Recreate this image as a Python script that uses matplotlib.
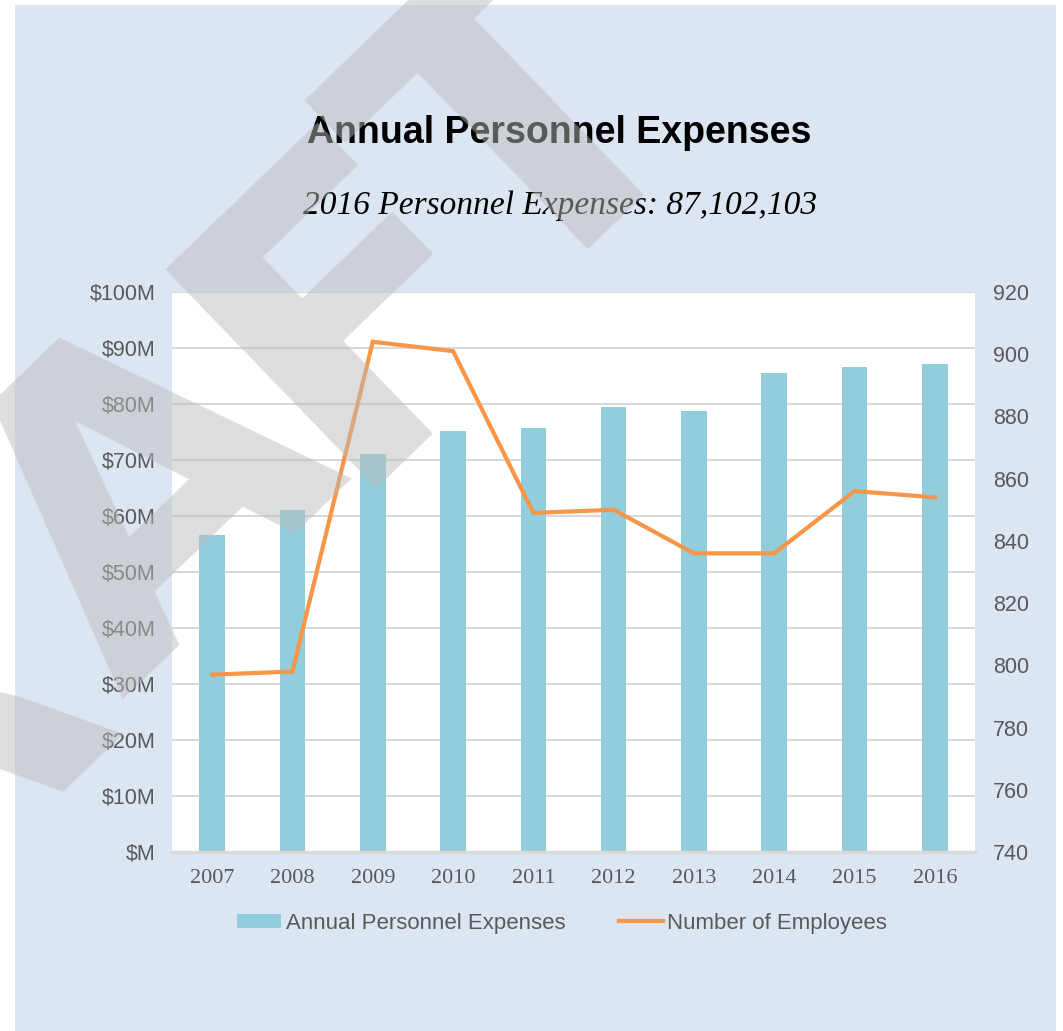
import math
import matplotlib
matplotlib.use("Agg")
import matplotlib.pyplot as plt
from matplotlib.patches import Rectangle
from matplotlib.lines import Line2D

# data
years = ["2007", "2008", "2009", "2010", "2011", "2012", "2013", "2014", "2015", "2016"]
expenses_m = [56.6, 61.1, 71.1, 75.2, 75.7, 79.5, 78.8, 85.5, 86.6, 87.1]
employees = [797, 798, 904, 901, 849, 850, 836, 836, 856, 854]
left_ticks = list(range(0, 101, 10))
right_ticks = list(range(740, 921, 20))

bar_color = "#92CDDC"
line_color = "#F79646"
text_gray = "#595959"
grid_gray = "#D9D9D9"
bg_blue = "#DCE6F2"

W, H = 1063, 1031
fig = plt.figure(figsize=(W / 100, H / 100), dpi=100)
fig.patch.set_facecolor("white")

# light blue panel behind everything
fig.add_artist(Rectangle((15 / W, 0), (1056 - 15) / W, 1 - 5 / H,
                         transform=fig.transFigure, facecolor=bg_blue,
                         edgecolor="none", zorder=-1))

ax = fig.add_axes([172 / W, 1 - 852 / H, (975 - 172) / W, (852 - 292) / H])
ax.set_facecolor("white")
x = list(range(len(years)))
ax.bar(x, expenses_m, width=0.32, color=bar_color, zorder=2)
ax.set_xlim(-0.5, len(years) - 0.5)
ax.set_ylim(0, 100)
ax.set_yticks(left_ticks)
ax.set_yticklabels(["$M"] + ["${}M".format(v) for v in left_ticks[1:]])
ax.set_xticks(x)
ax.set_xticklabels(years, family="Liberation Serif", fontsize=16, color=text_gray)
ax.grid(axis="y", color=grid_gray, linewidth=1.5, zorder=0)
ax.set_axisbelow(True)
for s in ["left", "right", "top"]:
    ax.spines[s].set_visible(False)
ax.spines["bottom"].set_color(grid_gray)
ax.spines["bottom"].set_linewidth(2.5)
ax.tick_params(axis="x", length=0, pad=12)
ax.tick_params(axis="y", length=0, pad=12, labelsize=15.5, labelcolor=text_gray)
for lab in ax.get_yticklabels():
    lab.set_family("Liberation Sans")

ax2 = ax.twinx()
ax2.plot(x, employees, color=line_color, linewidth=3, solid_joinstyle="miter", zorder=3)
ax2.set_ylim(740, 920)
ax2.set_yticks(right_ticks)
ax2.tick_params(axis="y", length=0, pad=13, labelsize=15.5, labelcolor=text_gray)
for lab in ax2.get_yticklabels():
    lab.set_family("Liberation Sans")
for s in ax2.spines.values():
    s.set_visible(False)

fig.text(559 / W, 1 - 133 / H, "Annual Personnel Expenses", ha="center", va="center",
         fontsize=27, fontweight="bold", family="Liberation Sans", color="black")
fig.text(560 / W, 1 - 206 / H, "2016 Personnel Expenses: 87,102,103", ha="center",
         va="center", fontsize=24, style="italic", family="Liberation Serif", color="black")

handles = [Rectangle((0, 0), 1, 1, facecolor=bar_color, edgecolor="none"),
           Line2D([0], [0], color=line_color, linewidth=3)]
leg = fig.legend(handles, ["Annual Personnel Expenses", "Number of Employees"],
                 loc="center", bbox_to_anchor=(562 / W, 1 - 923 / H), ncol=2,
                 frameon=False, handlelength=2.0, handleheight=0.6, handletextpad=0.2,
                 columnspacing=2.4, prop={"family": "Liberation Sans", "size": 16})
for t in leg.get_texts():
    t.set_color(text_gray)

# big translucent "DRAFT" watermark on top, letters laid along a tilted baseline
angle = 44
ux, uy = math.cos(math.radians(angle)), -math.sin(math.radians(angle))
x0, y0 = 150, 670
for letter, s in zip("DRAFT", [-540, -205, 120, 405, 648]):
    px, py = x0 + s * ux, y0 + s * uy
    fig.text(px / W, 1 - py / H, letter, ha="center", va="baseline", rotation=angle,
             rotation_mode="anchor", fontsize=300, fontweight="bold",
             family="DejaVu Sans", color="#BBBBBB", alpha=0.49, zorder=10)

fig.savefig("out.png", dpi=100)
